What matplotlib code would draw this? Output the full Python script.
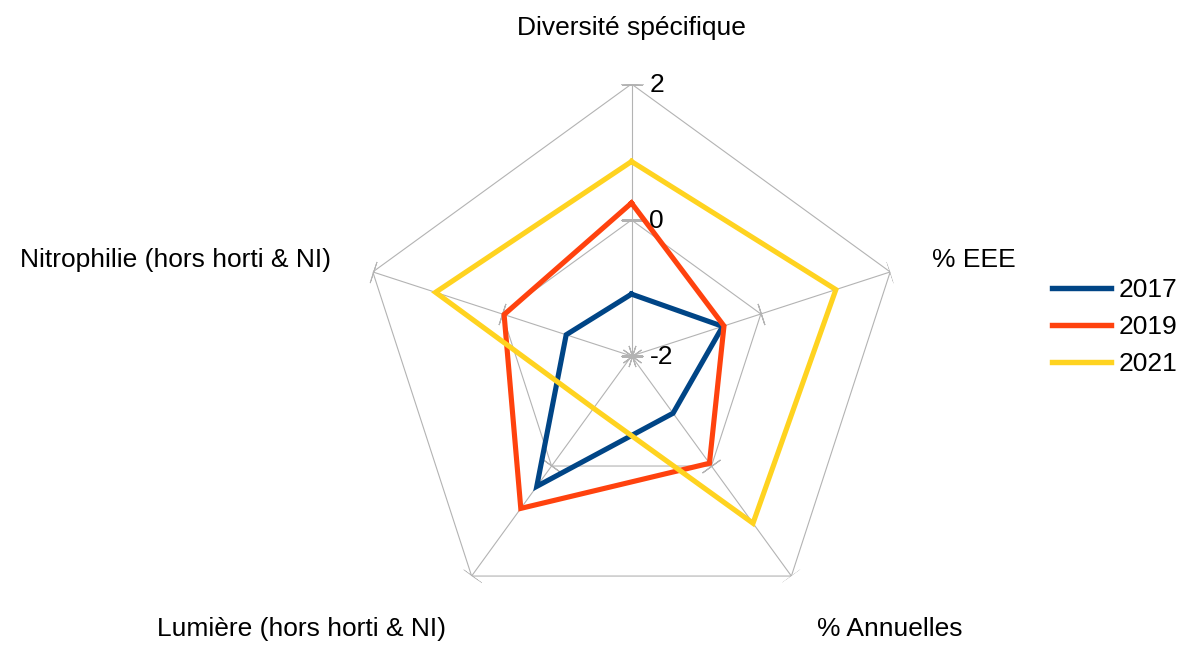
import numpy as np
import matplotlib
matplotlib.use("Agg")
import matplotlib.pyplot as plt

plt.rcParams['font.family'] = ['Liberation Sans', 'DejaVu Sans']

# Axes of the radar, clockwise from the top
categories = ["Diversité spécifique", "% EEE", "% Annuelles",
              "Lumière (hors horti & NI)", "Nitrophilie (hors horti & NI)"]
years = ["2017", "2019", "2021"]
v2017 = [-1.09, -0.59, -0.96, 0.37, -0.99]
v2019 = [0.25, -0.57, -0.05, 0.77, -0.03]
v2021 = [0.86, 1.16, 1.04, -1.05, 1.03]
colors = ["#004586", "#ff420e", "#ffd320"]
rings = [0, 2]
tick_labels = ["2", "0", "-2"]
tick_values = [2, 0, -2]

W, H = 1197, 653
fig = plt.figure(figsize=(W / 100, H / 100), dpi=100)
# centre of the radar at (631.5, 356) px, radius 272 px
cx, cy, R = 631.5, 356, 272
ax = fig.add_axes([(cx - R) / W, (H - cy - R) / H, 2 * R / W, 2 * R / H],
                  projection="polar")
ax.set_theta_zero_location("N")
ax.set_theta_direction(-1)
ax.set_ylim(-2, 2)
ax.grid(False)
ax.set_xticks([])
ax.set_yticks([])
ax.spines["polar"].set_visible(False)

n = len(categories)
theta = np.arange(n) * 2 * np.pi / n
grid_col = "#b3b3b3"

# pentagon rings and spokes
for r in rings:
    ax.plot(np.append(theta, theta[0]), [r] * (n + 1), color=grid_col, lw=0.8, zorder=1)
for i, t in enumerate(theta):
    ax.plot([t, t], [-2, 2], color=grid_col, lw=0.8, zorder=1)
    phi = 90 - np.degrees(t)
    ax.plot([t, t, t], [-2, 0, 2], ls="none", marker=(2, 2, phi), markersize=16,
            markeredgecolor=grid_col, markeredgewidth=0.8, zorder=1)

# data
for vals, col, lab in zip([v2017, v2019, v2021], colors, years):
    ax.plot(np.append(theta, theta[0]), vals + vals[:1], color=col, lw=3.7,
            solid_joinstyle="miter", label=lab, zorder=3)

fs = 19
# radial tick labels
for lab, v in zip(tick_labels, tick_values):
    ax.annotate(lab, xy=(0, v), xytext=(18, -1), textcoords="offset pixels",
                ha="left", va="center", fontsize=fs, annotation_clip=False)

# category labels
offsets = [(0, 56), (42, 12), (26, -53), (-26, -53), (-42, 12)]
aligns = ["center", "left", "left", "right", "right"]
for t, lab, off, ha in zip(theta, categories, offsets, aligns):
    ax.annotate(lab, xy=(t, 2), xytext=off, textcoords="offset pixels",
                ha=ha, va="center", fontsize=fs, annotation_clip=False)

leg = fig.legend(loc="center left", bbox_to_anchor=(1028 / W, 1 - 327 / H),
                 frameon=False, fontsize=fs, handlelength=2.25, handletextpad=0.3,
                 labelspacing=0.5)
for line in leg.get_lines():
    line.set_linewidth(3.9)

fig.savefig("out.png", dpi=100)
